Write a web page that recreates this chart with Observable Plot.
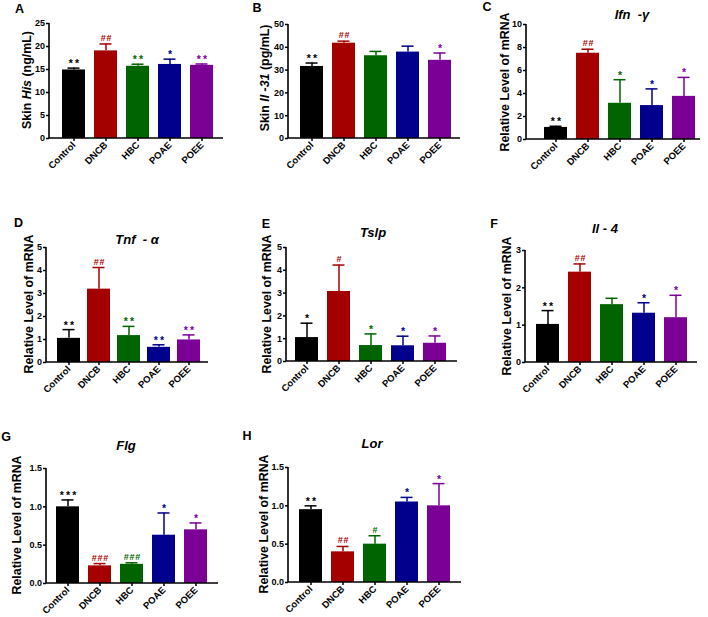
<!DOCTYPE html>
<html><head><meta charset="utf-8">
<script src="https://cdn.jsdelivr.net/npm/d3@7"></script>
<script src="https://cdn.jsdelivr.net/npm/@observablehq/plot@0.6"></script>
<style>
body{margin:0;background:#fff}
#root{position:relative;width:708px;height:617px;background:#fff;overflow:hidden;font-family:"Liberation Sans",Arial,sans-serif;font-weight:bold;color:#000}
.ov{position:absolute;white-space:pre;line-height:1;transform:translate(-50%,-50%)}
.ylab{font-size:12.4px;transform:translate(-50%,-50%) rotate(-90deg)}
.letter{font-size:12.5px}
.title{font-size:13px;font-style:italic}
</style></head><body><div id="root"></div><script>
// ---------- data ----------
const groups = ["Control", "DNCB", "HBC", "POAE", "POEE"];
const groupColors = ["#000000", "#a50000", "#006400", "#00008c", "#7a0096"];

// A: Skin His (ng/mL)
const hisMean = [14.9, 19.05, 15.7, 16.1, 15.9];
const hisErr  = [0.4, 1.5, 0.45, 1.15, 0.3];
const hisSig  = ["**", "##", "**", "*", "**"];
// B: Skin Il-31 (pg/mL)
const il31Mean = [31.6, 41.8, 36.3, 37.9, 34.3];
const il31Err  = [1.5, 0.9, 1.9, 2.6, 3.2];
const il31Sig  = ["**", "##", "", "", "*"];
// C: Ifn-gamma
const ifnMean = [1.05, 7.5, 3.15, 2.95, 3.75];
const ifnErr  = [0.1, 0.35, 2.05, 1.45, 1.65];
const ifnSig  = ["**", "##", "*", "*", "*"];
// D: Tnf-alpha
const tnfMean = [1.05, 3.19, 1.17, 0.66, 0.98];
const tnfErr  = [0.38, 0.94, 0.4, 0.11, 0.22];
const tnfSig  = ["**", "##", "**", "**", "**"];
// E: Tslp
const tslpMean = [1.05, 3.07, 0.7, 0.69, 0.8];
const tslpErr  = [0.63, 1.16, 0.51, 0.42, 0.32];
const tslpSig  = ["*", "#", "*", "*", "*"];
// F: Il-4
const il4Mean = [1.02, 2.42, 1.55, 1.32, 1.2];
const il4Err  = [0.37, 0.22, 0.17, 0.28, 0.6];
const il4Sig  = ["**", "##", "", "*", "*"];
// G: Flg
const flgMean = [1.0, 0.23, 0.25, 0.63, 0.7];
const flgErr  = [0.09, 0.03, 0.02, 0.29, 0.09];
const flgSig  = ["***", "###", "###", "*", "*"];
// H: Lor
const lorMean = [0.95, 0.4, 0.5, 1.05, 1.0];
const lorErr  = [0.05, 0.07, 0.11, 0.06, 0.29];
const lorSig  = ["**", "##", "#", "*", "*"];

const panelLetters = ["A", "B", "C", "D", "E", "F", "G", "H"];
const panelTitles = ["", "", "Ifn  -γ", "Tnf  - α", "Tslp", "Il - 4", "Flg", "Lor"];
const yLabels = ["Skin <i>His</i> (ng/mL)", "Skin <i>Il -31</i> (pg/mL)", "Relative Level of mRNA", "Relative Level of mRNA",
  "Relative Level of mRNA", "Relative Level of mRNA", "Relative Level of mRNA", "Relative Level of mRNA"];
const yTicks = [[0,5,10,15,20,25],[0,10,20,30,40,50],[0,2,4,6,8,10],[0,1,2,3,4,5],[0,1,2,3,4,5],[0,1,2,3],[0,0.5,1,1.5],[0,0.5,1,1.5]];
const yFormats = ["d","d","d","d","d","d",".1f",".1f"];

const series = [
  [hisMean, hisErr, hisSig], [il31Mean, il31Err, il31Sig], [ifnMean, ifnErr, ifnSig], [tnfMean, tnfErr, tnfSig],
  [tslpMean, tslpErr, tslpSig], [il4Mean, il4Err, il4Sig], [flgMean, flgErr, flgSig], [lorMean, lorErr, lorSig]
];

// ---------- layout (page pixels) ----------
const layout = [
  {xL:49,  xR:223, yT:23,  yB:138, bS:61,  bE:213, lab:[27,80],   tit:null,     let:[19.5,8.5]},
  {xL:288, xR:460, yT:24,  yB:138, bS:299, bE:452, lab:[265,78],  tit:null,     let:[257,8]},
  {xL:526, xR:700, yT:24,  yB:139, bS:543, bE:695, lab:[505,82],  tit:[632,14], let:[487,7]},
  {xL:46,  xR:208, yT:247, yB:362, bS:56,  bE:200, lab:[29,304],  tit:[137,239],let:[18.5,223]},
  {xL:286, xR:457, yT:247, yB:361, bS:294, bE:447, lab:[267,304], tit:[373,232],let:[266,224]},
  {xL:525, xR:697, yT:250, yB:362, bS:535, bE:687, lab:[507,306], tit:[605,228],let:[494,224]},
  {xL:46,  xR:218, yT:468, yB:583, bS:55,  bE:207, lab:[17,525],  tit:[126,445],let:[6,437]},
  {xL:288, xR:461, yT:467, yB:582, bS:298, bE:451, lab:[264,524], tit:[372,443],let:[247,436]}
];

const root = document.getElementById("root");
const FONT = '"Liberation Sans", Arial, sans-serif';

const axisLines = (index, scales, values, d) => {
  const l = d.marginLeft, t = d.marginTop, b = d.height - d.marginBottom, r = d.width - d.marginRight;
  return d3.create("svg:path").attr("d", `M${l},${t}V${b}H${r}`)
    .attr("fill", "none").attr("stroke", "#000").attr("stroke-width", 1.6).node();
};

series.forEach(([mean, err, sig], k) => {
  const p = layout[k];
  const rows = groups.map((g, i) => ({group: g, value: mean[i], top: mean[i] + err[i], sig: sig[i], color: groupColors[i]}));
  const mL = 45, mT = 15, mR = 6, mB = 60;
  const sL = p.xL - mL, sT = p.yT - mT;
  const W = p.xR - sL + mR, H = p.yB - sT + mB;
  const n = groups.length, bw = 23;
  const step = (p.bE - p.bS - bw) / (n - 1);
  const pi = 1 - bw / step;
  const ticks = yTicks[k];
  const svg = Plot.plot({
    width: W, height: H, marginLeft: mL, marginTop: mT, marginRight: mR, marginBottom: mB,
    style: {position: "absolute", left: sL + "px", top: sT + "px", background: "transparent", overflow: "visible",
      fontFamily: FONT, fontSize: "9px", fontWeight: "bold", color: "#000", maxWidth: "none"},
    x: {domain: groups, range: [p.bS - sL, p.bE - sL], paddingInner: pi, paddingOuter: 0, align: 0.5},
    y: {domain: [0, ticks[ticks.length - 1]]},
    color: {type: "identity"},
    marks: [
      Plot.barY(rows, {x: "group", y: "value", fill: "color"}),
      Plot.ruleX(rows, {x: "group", y1: "value", y2: "top", stroke: "color", strokeWidth: 1.5}),
      Plot.tickY(rows, {x: "group", y: "top", stroke: "color", strokeWidth: 1.5, insetLeft: 5.5, insetRight: 5.5}),
      Plot.text(rows.filter(d => d.sig.startsWith("*")), {x: "group", y: "top", text: d => d.sig.split("").join("\u2009"),
        fill: "color", fontSize: 10.5, lineAnchor: "bottom", dy: -1}),
      Plot.text(rows.filter(d => d.sig.startsWith("#")), {x: "group", y: "top", text: d => d.sig.split("").join("\u200A"),
        fill: "color", fontSize: 9, lineAnchor: "bottom", dy: -3}),
      Plot.axisY({ticks, tickSize: 3, tickPadding: 1.5, tickFormat: d3.format(yFormats[k]), strokeWidth: 1.5, label: null}),
      Plot.axisX({tickSize: 3, tickPadding: 2, tickRotate: -45, strokeWidth: 1.5, fontSize: 9.5, label: null}),
      axisLines
    ]
  });
  root.appendChild(svg);

  const addDiv = (cls, html, pos) => {
    const d = document.createElement("div");
    d.className = "ov " + cls;
    d.innerHTML = html;
    d.style.left = pos[0] + "px";
    d.style.top = pos[1] + "px";
    root.appendChild(d);
  };
  addDiv("ylab", yLabels[k], p.lab);
  addDiv("letter", panelLetters[k], p.let);
  if (p.tit) addDiv("title", panelTitles[k], p.tit);
});
</script></body></html>
